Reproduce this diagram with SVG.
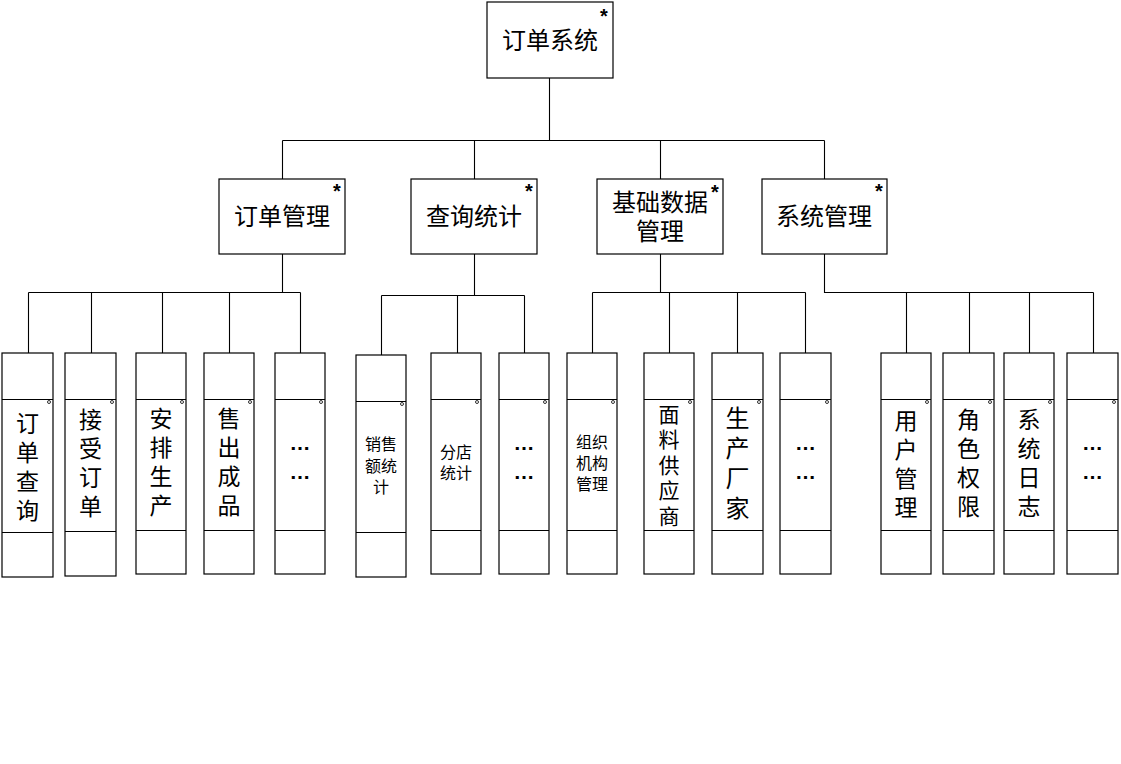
<svg xmlns="http://www.w3.org/2000/svg" width="1121" height="764" viewBox="0 0 1121 764">
<style>
.b{fill:#fff;stroke:#000;stroke-width:1.2}
.l{fill:none;stroke:#000;stroke-width:1.1}
.t{font-family:"Noto Sans CJK SC",sans-serif;fill:#000;text-anchor:middle;dominant-baseline:central}
.v{font-family:"Noto Sans CJK SC",sans-serif;fill:#000;text-anchor:middle;writing-mode:vertical-rl;font-size:23px;letter-spacing:6px}
.s{font-size:16px}
.a{font-family:"Liberation Sans",sans-serif;font-weight:bold;font-size:20px;text-anchor:middle;fill:#000}
.d{font-family:"Liberation Sans",sans-serif;font-weight:bold;font-size:21px;text-anchor:middle;fill:#000}
.c{fill:none;stroke:#000;stroke-width:0.8}
</style>
<rect width="1121" height="764" fill="#fff"/>
<g id="connectors" class="l">
<path d="M549.5 78V140.5M282.5 140.5H824.5M282.5 140.5V179M474.5 140.5V179M660.5 140.5V179M824.5 140.5V179"/>
<path d="M282.5 254V292.5M28.5 292.5H300.5M28.5 292.5V353M91.5 292.5V353M162.5 292.5V353M229.5 292.5V353M300.5 292.5V353"/>
<path d="M474.5 254V295.5M381.5 295.5H524.5M381.5 295.5V355M457.5 295.5V353M524.5 295.5V353"/>
<path d="M660.5 254V292.5M592.5 292.5H805.5M592.5 292.5V353M669.5 292.5V353M737.5 292.5V353M805.5 292.5V353"/>
<path d="M824.5 254V292.5H1093.5M906.5 292.5V353M969.5 292.5V353M1029.5 292.5V353M1093.5 292.5V353"/>
</g>
<g id="n0"><rect class="b" x="487" y="2" width="126" height="76"/><text class="t" x="550" y="38" font-size="24">订单系统</text><text class="a" x="604" y="23">*</text></g>
<g id="n1"><rect class="b" x="219" y="179" width="126" height="75"/><text class="t" x="282" y="214" font-size="24">订单管理</text><text class="a" x="337" y="198">*</text></g>
<g id="n2"><rect class="b" x="411" y="179" width="126" height="75"/><text class="t" x="474" y="214" font-size="24">查询统计</text><text class="a" x="529" y="198">*</text></g>
<g id="n3"><rect class="b" x="597" y="179" width="126" height="75"/><text class="t" font-size="24"><tspan x="660" y="200">基础数据</tspan><tspan x="660" y="229">管理</tspan></text><text class="a" x="715" y="199">*</text></g>
<g id="n4"><rect class="b" x="762" y="179" width="125" height="75"/><text class="t" x="824" y="214" font-size="24">系统管理</text><text class="a" x="879" y="198">*</text></g>

<g id="l1"><rect class="b" x="2" y="353" width="51" height="224"/><path class="l" d="M2 399.5H53M2 532.5H53"/><circle class="c" cx="49" cy="402" r="1.5"/><text class="v" x="27.5" y="470">订单查询</text></g>
<g id="l2"><rect class="b" x="65" y="353" width="51" height="223"/><path class="l" d="M65 399.5H116M65 531.5H116"/><circle class="c" cx="112" cy="402" r="1.5"/><text class="v" x="90.5" y="466">接受订单</text></g>
<g id="l3"><rect class="b" x="136" y="353" width="50" height="221"/><path class="l" d="M136 399.5H186M136 530.5H186"/><circle class="c" cx="182" cy="402" r="1.5"/><text class="v" x="161" y="465">安排生产</text></g>
<g id="l4"><rect class="b" x="204" y="353" width="50" height="221"/><path class="l" d="M204 399.5H254M204 530.5H254"/><circle class="c" cx="250" cy="402" r="1.5"/><text class="v" x="229" y="465">售出成品</text></g>
<g id="l5"><rect class="b" x="275" y="353" width="50" height="221"/><path class="l" d="M275 399.5H325M275 530.5H325"/><circle class="c" cx="321" cy="402" r="1.5"/><text class="d" x="300" y="450">…</text><text class="d" x="300" y="479">…</text></g>

<g id="l6"><rect class="b" x="356" y="355" width="50" height="222"/><path class="l" d="M356 401.5H406M356 532.5H406"/><circle class="c" cx="402" cy="404" r="1.5"/><text class="t s"><tspan x="381" y="443">销售</tspan><tspan x="381" y="465">额统</tspan><tspan x="381" y="486">计</tspan></text></g>
<g id="l7"><rect class="b" x="431" y="353" width="50" height="221"/><path class="l" d="M431 399.5H481M431 530.5H481"/><circle class="c" cx="477" cy="402" r="1.5"/><text class="t s"><tspan x="456" y="451">分店</tspan><tspan x="456" y="472">统计</tspan></text></g>
<g id="l8"><rect class="b" x="499" y="353" width="50" height="221"/><path class="l" d="M499 399.5H549M499 530.5H549"/><circle class="c" cx="545" cy="402" r="1.5"/><text class="d" x="524" y="450">…</text><text class="d" x="524" y="479">…</text></g>

<g id="l9"><rect class="b" x="567" y="353" width="50" height="221"/><path class="l" d="M567 399.5H617M567 530.5H617"/><circle class="c" cx="613" cy="402" r="1.5"/><text class="t s"><tspan x="592" y="441">组织</tspan><tspan x="592" y="462">机构</tspan><tspan x="592" y="483">管理</tspan></text></g>
<g id="l10"><rect class="b" x="644" y="353" width="50" height="221"/><path class="l" d="M644 399.5H694M644 530.5H694"/><circle class="c" cx="690" cy="402" r="1.5"/><text class="v" x="669" y="467" style="font-size:21px;letter-spacing:4.5px">面料供应商</text></g>
<g id="l11"><rect class="b" x="712" y="353" width="51" height="221"/><path class="l" d="M712 399.5H763M712 530.5H763"/><circle class="c" cx="759" cy="402" r="1.5"/><text class="v" x="737.5" y="466" style="font-size:24px;letter-spacing:6px">生产厂家</text></g>
<g id="l12"><rect class="b" x="780" y="353" width="51" height="221"/><path class="l" d="M780 399.5H831M780 530.5H831"/><circle class="c" cx="827" cy="402" r="1.5"/><text class="d" x="805.5" y="450">…</text><text class="d" x="805.5" y="479">…</text></g>

<g id="l13"><rect class="b" x="881" y="353" width="50" height="221"/><path class="l" d="M881 399.5H931M881 530.5H931"/><circle class="c" cx="927" cy="402" r="1.5"/><text class="v" x="906" y="467">用户管理</text></g>
<g id="l14"><rect class="b" x="943" y="353" width="51" height="221"/><path class="l" d="M943 399.5H994M943 530.5H994"/><circle class="c" cx="990" cy="402" r="1.5"/><text class="v" x="968.5" y="466">角色权限</text></g>
<g id="l15"><rect class="b" x="1004" y="353" width="50" height="221"/><path class="l" d="M1004 399.5H1054M1004 530.5H1054"/><circle class="c" cx="1050" cy="402" r="1.5"/><text class="v" x="1029" y="466">系统日志</text></g>
<g id="l16"><rect class="b" x="1067" y="353" width="51" height="221"/><path class="l" d="M1067 399.5H1118M1067 530.5H1118"/><circle class="c" cx="1114" cy="402" r="1.5"/><text class="d" x="1092.5" y="450">…</text><text class="d" x="1092.5" y="479">…</text></g>
</svg>
